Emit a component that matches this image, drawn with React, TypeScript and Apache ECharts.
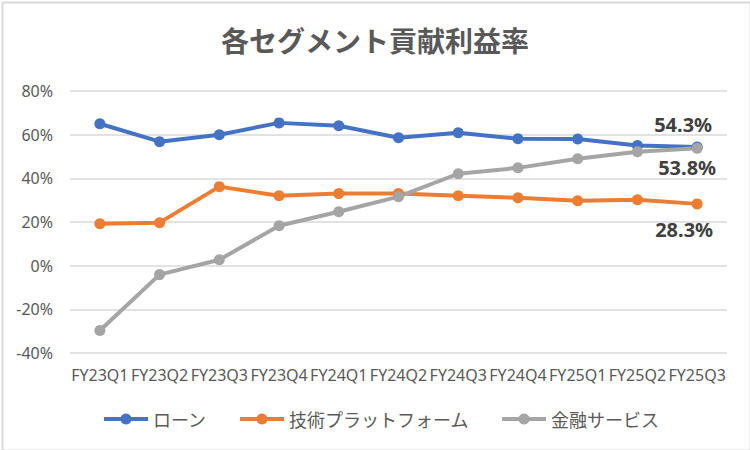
import { useRef, useEffect } from 'react';
import * as echarts from 'echarts';

const categories = [
  'FY23Q1', 'FY23Q2', 'FY23Q3', 'FY23Q4', 'FY24Q1', 'FY24Q2',
  'FY24Q3', 'FY24Q4', 'FY25Q1', 'FY25Q2', 'FY25Q3',
];

// values in %
const loan = [65.0, 56.8, 60.0, 65.4, 64.1, 58.6, 60.9, 58.1, 58.0, 55.0, 54.3];
const techPlatform = [19.2, 19.7, 36.2, 32.0, 33.0, 33.0, 32.0, 31.1, 29.7, 30.2, 28.3];
const finance = [-29.7, -4.1, 2.7, 18.3, 24.7, 31.6, 42.1, 44.8, 49.0, 52.2, 53.8];

const seriesNames = ['ローン', '技術プラットフォーム', '金融サービス'];
const colors = ['#4472C4', '#ED7D31', '#A5A5A5'];

const latin = '"Noto Sans", "Noto Sans CJK JP", sans-serif';
const jp = '"Noto Sans CJK JP", "Noto Sans", sans-serif';

const App: React.FC = () => {
  const chartRef = useRef<HTMLDivElement>(null);

  useEffect(() => {
    if (!chartRef.current) return;
    const chart = echarts.init(chartRef.current, null, { renderer: 'svg' });

    const lastIdx = categories.length - 1;
    const labelStyle = {
      color: '#404040',
      fontSize: 20,
      fontWeight: 'bold' as const,
      fontFamily: latin,
    };

    // data label only on the last point of each series
    const withLastLabel = (values: number[], position: string, offset: number[]) =>
      values.map((v, i) =>
        i === lastIdx
          ? {
              value: v,
              label: {
                show: true,
                position,
                offset,
                formatter: (p: any) => `${p.value.toFixed(1)}%`,
                ...labelStyle,
              },
            }
          : v
      );

    const makeSeries = (name: string, data: any[], color: string) => ({
      name,
      type: 'line',
      data,
      symbol: 'circle',
      symbolSize: 11,
      showSymbol: true,
      lineStyle: { color, width: 4 },
      itemStyle: { color },
      z: 3,
    });

    const option: echarts.EChartsOption = {
      animation: false,
      backgroundColor: '#ffffff',
      title: {
        text: '各セグメント貢献利益率',
        left: 'center',
        top: 21,
        textStyle: {
          fontFamily: jp,
          fontSize: 28,
          fontWeight: 'bold',
          color: '#595959',
        },
      },
      grid: { left: 70, right: 23, top: 91, bottom: 97 },
      legend: {
        data: seriesNames,
        bottom: 17,
        left: 97,
        itemWidth: 44,
        itemHeight: 14,
        itemGap: 31,
        lineStyle: { width: 4 },
        textStyle: { fontFamily: jp, fontSize: 18, color: '#595959' },
      },
      xAxis: {
        type: 'category',
        data: categories,
        boundaryGap: true,
        axisLine: { show: false },
        axisTick: { show: false },
        axisLabel: {
          interval: 0,
          margin: 14,
          fontFamily: latin,
          fontSize: 16,
          color: '#595959',
        },
      },
      yAxis: {
        type: 'value',
        min: -40,
        max: 80,
        interval: 20,
        axisLine: { show: false },
        axisTick: { show: false },
        splitLine: { lineStyle: { color: '#D9D9D9', width: 1.5 } },
        axisLabel: {
          formatter: '{value}%',
          margin: 17,
          fontFamily: latin,
          fontSize: 16,
          color: '#595959',
        },
      },
      series: [
        makeSeries(seriesNames[0], withLastLabel(loan, 'top', [-14, -2]), colors[0]),
        makeSeries(seriesNames[1], withLastLabel(techPlatform, 'bottom', [-13, 5]), colors[1]),
        makeSeries(seriesNames[2], withLastLabel(finance, 'bottom', [-10, -1]), colors[2]),
      ] as any,
      graphic: [
        {
          type: 'rect',
          left: 0,
          top: 0,
          shape: { x: 1, y: 1, width: 748, height: 448 },
          style: { fill: 'none', stroke: '#D9D9D9', lineWidth: 2 },
          silent: true,
        },
      ],
    };

    chart.setOption(option);

    return () => {
      chart.dispose();
    };
  }, []);

  return (
    <div
      ref={chartRef}
      style={{ position: 'fixed', left: 0, top: 0, width: '750px', height: '450px' }}
    />
  );
};

export default App;
